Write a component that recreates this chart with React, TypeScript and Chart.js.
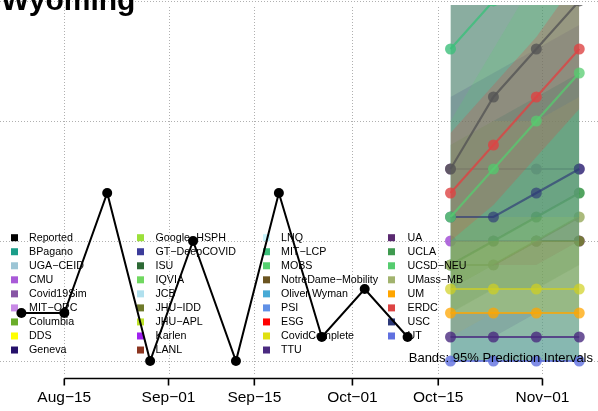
import React, { useEffect, useRef } from "react";
import { Chart, registerables } from "chart.js";

Chart.register(...registerables);

// ---- data (days counted from Aug-15) ----
const reportedDays = [-7, 0, 7, 14, 21, 28, 35, 42, 49, 56];
const reportedValues = [2, 2, 7, 0, 5, 0, 7, 1, 3, 1];
const forecastDays = [63, 70, 77, 84];

const tickDays = [0, 17, 31, 47, 61, 78];
const tickLabels = ["Aug\u221215", "Sep\u221201", "Sep\u221215", "Oct\u221201", "Oct\u221215", "Nov\u221201"];
const gridValues = [0, 5, 10, 15];

const legendNames = [
  "Reported", "BPagano", "UGA\u2212CEID", "CMU", "Covid19Sim", "MIT\u2212ORC", "Columbia", "DDS", "Geneva",
  "Google\u2212HSPH", "GT\u2212DeepCOVID", "ISU", "IQVIA", "JCB", "JHU\u2212IDD", "JHU\u2212APL", "Karlen", "LANL",
  "LNQ", "MIT\u2212LCP", "MOBS", "NotreDame\u2212Mobility", "Oliver Wyman", "PSI", "ESG", "CovidComplete", "TTU",
  "UA", "UCLA", "UCSD\u2212NEU", "UMass\u2212MB", "UM", "ERDC", "USC", "UT",
];
const legendColors = [
  "#000000", "#1b9e8a", "#9cc5d5", "#a95ad8", "#8855a5", "#c88ae6", "#6aad2a", "#ffff00", "#25106a",
  "#9be03a", "#3c3c9a", "#2d6935", "#70d860", "#b0e0ee", "#6f7a2a", "#bde32a", "#a020f0", "#8b3520",
  "#c8f4fc", "#3cbf7a", "#55d070", "#6b5420", "#48aad6", "#6090e6", "#ff0000", "#e0e010", "#4a2a80",
  "#5a2a70", "#3f9a4f", "#55cc6f", "#a2b36e", "#ffa500", "#dd4444", "#2c3878", "#6070e0",
];

// forecast medians
const cmuValues = [5, 5, 5, 5];
const covid19simValues = [8, 8, 8, 8];
const jhuiddValues = [null, null, 5, 5];
const uclaValues = [4, 5, 6, 7];
const umassValues = [4, 4, 5, 6];
const utValues = [0, 0, 0, 0];
const uaValues = [1, 1, 1, 1];
const umValues = [2, 2, 2, 2];
const covidCompleteValues = [3, 3, 3, 3];
const uscValues = [6, 6, 7, 8];
const ucsdValues = [6, 8, 10, 12];
const erdcValues = [7, 9, 11, 13];
const mitlcpValues = [13, 15, 17, 19];
const ensembleValues = [8, 11, 13, 15];

// 95% bands
const mitlcpLower = [0, 0, 0, 0];
const mitlcpUpper = [30, 40, 50, 60];
const uclaLower = [2, 3, 3, 4];
const uclaUpper = [20, 25, 30, 35];
const gtLower = [4, 5, 6, 7];
const gtUpper = [16, 19, 24, 28];
const bpaganoLower = [0, 0, 0, 0];
const bpaganoUpper = [9, 10, 11, 12];
const ensembleLower = [3, 4, 4, 5];
const ensembleUpper = [20, 24, 28, 32];
const uscLower = [1, 1, 2, 2];
const uscUpper = [11, 12, 13, 14];
const umassLower = [1, 2, 2, 2];
const umassUpper = [9, 10, 10, 11];
const ucsdLower = [3, 4, 5, 6];
const ucsdUpper = [10, 13, 16, 19];
const erdcLower = [5, 6.5, 8.5, 10.5];
const erdcUpper = [9.5, 11.5, 13.5, 16];
const covidCompleteLower = [1, 1, 1, 1];
const covidCompleteUpper = [6, 6, 6, 6];
const umLower = [0, 0, 0, 0];
const umUpper = [5, 5, 5, 5];
const utLower = [0, 0, 0, 0];
const utUpper = [2, 2, 2, 2];

function rgba(hex: string, a: number) {
  const n = parseInt(hex.slice(1), 16);
  return `rgba(${(n >> 16) & 255},${(n >> 8) & 255},${n & 255},${a})`;
}

const pts = (days: number[], vals: (number | null)[]) => days.map((d, i) => ({ x: d, y: vals[i] }));

export default function App() {
  const ref = useRef<HTMLCanvasElement | null>(null);

  useEffect(() => {
    document.body.style.margin = "0";
    const canvas = ref.current!;
    const datasets: any[] = [];
    const seq: any[] = [];

    const addLine = (vals: (number | null)[], color: string, alpha: number) => {
      seq.push({
        type: "line",
        data: pts(forecastDays, vals),
        borderColor: rgba(color, alpha),
        borderWidth: 2.2,
        pointRadius: 5.5,
        pointBackgroundColor: rgba(color, alpha),
        pointBorderWidth: 0,
        fill: false,
        tension: 0,
      });
    };
    const addBand = (lo: number[], hi: number[], color: string, alpha: number) => {
      const loIdx = seq.length;
      seq.push({
        type: "line",
        data: pts(forecastDays, lo),
        borderWidth: 0,
        borderColor: "rgba(0,0,0,0)",
        pointRadius: 0,
        fill: false,
      });
      seq.push({
        type: "line",
        data: pts(forecastDays, hi),
        borderWidth: 0,
        borderColor: "rgba(0,0,0,0)",
        pointRadius: 0,
        backgroundColor: rgba(color, alpha),
        fill: { target: loIdx + 1 },
      });
    };

    // reported first in array (index 0), drawn last
    datasets.push({
      type: "line",
      data: pts(reportedDays, reportedValues),
      borderColor: "#000",
      borderWidth: 2,
      pointRadius: 5,
      pointBackgroundColor: "#000",
      pointBorderWidth: 0,
      fill: false,
      order: 0,
    });

    addLine(cmuValues, "#a95ad8", 0.9);
    addLine(jhuiddValues, "#6f7a2a", 0.9);
    addLine(covid19simValues, "#8855a5", 0.9);
    addLine(uclaValues, "#3f9a4f", 0.9);
    addLine(umassValues, "#a2b36e", 0.9);

    addBand(mitlcpLower, mitlcpUpper, "#3cbf7a", 0.32);
    addBand(uclaLower, uclaUpper, "#3f9a4f", 0.22);
    addBand(gtLower, gtUpper, "#3c3c9a", 0.12);
    addBand(bpaganoLower, bpaganoUpper, "#1b9e8a", 0.36);
    addBand(ensembleLower, ensembleUpper, "#666666", 0.25);
    addBand(uscLower, uscUpper, "#2c3878", 0.15);
    addBand(umassLower, umassUpper, "#a2b36e", 0.26);
    addBand(ucsdLower, ucsdUpper, "#55cc6f", 0.2);
    addBand(erdcLower, erdcUpper, "#dd4444", 0.25);
    addBand(covidCompleteLower, covidCompleteUpper, "#e0e010", 0.08);
    addBand(umLower, umUpper, "#ffa500", 0.1);
    addBand(utLower, utUpper, "#6070e0", 0.2);

    addLine(utValues, "#6070e0", 0.8);
    addLine(uaValues, "#4a2a80", 0.8);
    addLine(umValues, "#ffa500", 0.75);
    addLine(covidCompleteValues, "#d0d020", 0.7);
    addLine(uscValues, "#2c3878", 0.65);
    addLine(ucsdValues, "#55cc6f", 0.75);
    addLine(erdcValues, "#dd4444", 0.8);
    addLine(mitlcpValues, "#3cbf7a", 0.8);
    addLine(ensembleValues, "#555555", 0.8);

    seq.forEach((d, k) => {
      d.order = 1000 - k;
      datasets.push(d);
    });

    const dotted = (ctx: CanvasRenderingContext2D, x1: number, y1: number, x2: number, y2: number) => {
      ctx.beginPath();
      ctx.moveTo(x1, y1);
      ctx.lineTo(x2, y2);
      ctx.stroke();
    };

    const custom = {
      id: "custom",
      beforeDatasetsDraw(chart: any) {
        const ctx = chart.ctx;
        const xs = chart.scales.x;
        const ys = chart.scales.y;
        ctx.save();
        ctx.strokeStyle = "#b0b0b0";
        ctx.lineWidth = 1;
        ctx.setLineDash([1, 2]);
        gridValues.forEach((v) => {
          const y = Math.round(ys.getPixelForValue(v)) + 0.5;
          dotted(ctx, 0, y, chart.width, y);
        });
        tickDays.forEach((d) => {
          const x = Math.round(xs.getPixelForValue(d)) + 0.5;
          dotted(ctx, x, chart.chartArea.top + 2, x, ys.getPixelForValue(-0.6));
        });
        ctx.restore();
      },
      beforeDatasetDraw(chart: any, args: any) {
        if (args.index !== 0) return;
        const ctx = chart.ctx;
        ctx.save();
        ctx.font = '10.7px "Liberation Sans", Arial, sans-serif';
        ctx.textBaseline = "middle";
        ctx.textAlign = "left";
        const colX = [11, 137, 263, 388];
        const textX = [29, 155.5, 281, 407.5];
        legendNames.forEach((name, i) => {
          const c = Math.floor(i / 9);
          const r = i % 9;
          const y = 237.7 + r * 14.04;
          ctx.fillStyle = legendColors[i];
          ctx.fillRect(colX[c], y - 3.5, 7, 7);
          ctx.fillStyle = "#000";
          ctx.fillText(name, textX[c], y + 0.5);
        });
        ctx.restore();
      },
      afterDatasetsDraw(chart: any) {
        const ctx = chart.ctx;
        const xs = chart.scales.x;
        ctx.save();
        ctx.fillStyle = "#000";
        ctx.font = '13px "Liberation Sans", Arial, sans-serif';
        ctx.textAlign = "right";
        ctx.textBaseline = "middle";
        ctx.fillText("Bands: 95% Prediction Intervals", 593, 358.5);

        // x axis (R style)
        const axisY = 378.5;
        ctx.strokeStyle = "#000";
        ctx.lineWidth = 1.6;
        ctx.setLineDash([]);
        const x0 = xs.getPixelForValue(tickDays[0]);
        const x1 = xs.getPixelForValue(tickDays[tickDays.length - 1]);
        ctx.beginPath();
        ctx.moveTo(x0, axisY);
        ctx.lineTo(x1, axisY);
        tickDays.forEach((d) => {
          const x = xs.getPixelForValue(d);
          ctx.moveTo(x, axisY);
          ctx.lineTo(x, axisY + 7);
        });
        ctx.stroke();
        ctx.font = '15.5px "Liberation Sans", Arial, sans-serif';
        ctx.textAlign = "center";
        ctx.textBaseline = "middle";
        tickDays.forEach((d, i) => {
          ctx.fillText(tickLabels[i], xs.getPixelForValue(d), 398);
        });

        // title (cropped at top)
        ctx.font = 'bold 30px "Liberation Sans", Arial, sans-serif';
        ctx.textAlign = "left";
        ctx.textBaseline = "alphabetic";
        ctx.fillText("Wyoming", 1, 10);
        ctx.restore();
      },
    };

    const chart = new Chart(canvas, {
      type: "line",
      data: { datasets },
      options: {
        animation: false,
        responsive: false,
        devicePixelRatio: 1,
        layout: { autoPadding: false, padding: { top: 5, left: 0, right: 0, bottom: 0 } },
        plugins: {
          legend: { display: false },
          tooltip: { enabled: false },
          title: { display: false },
          filler: { propagate: false },
        },
        scales: {
          x: { type: "linear", display: false, min: -10.49, max: 87.06 },
          y: { type: "linear", display: false, min: -2.0833, max: 14.8333 },
        },
      },
      plugins: [custom],
    });
    return () => chart.destroy();
  }, []);

  return (
    <div style={{ width: 598, height: 411, background: "#fff" }}>
      <canvas ref={ref} width={598} height={411} style={{ display: "block" }} />
    </div>
  );
}
